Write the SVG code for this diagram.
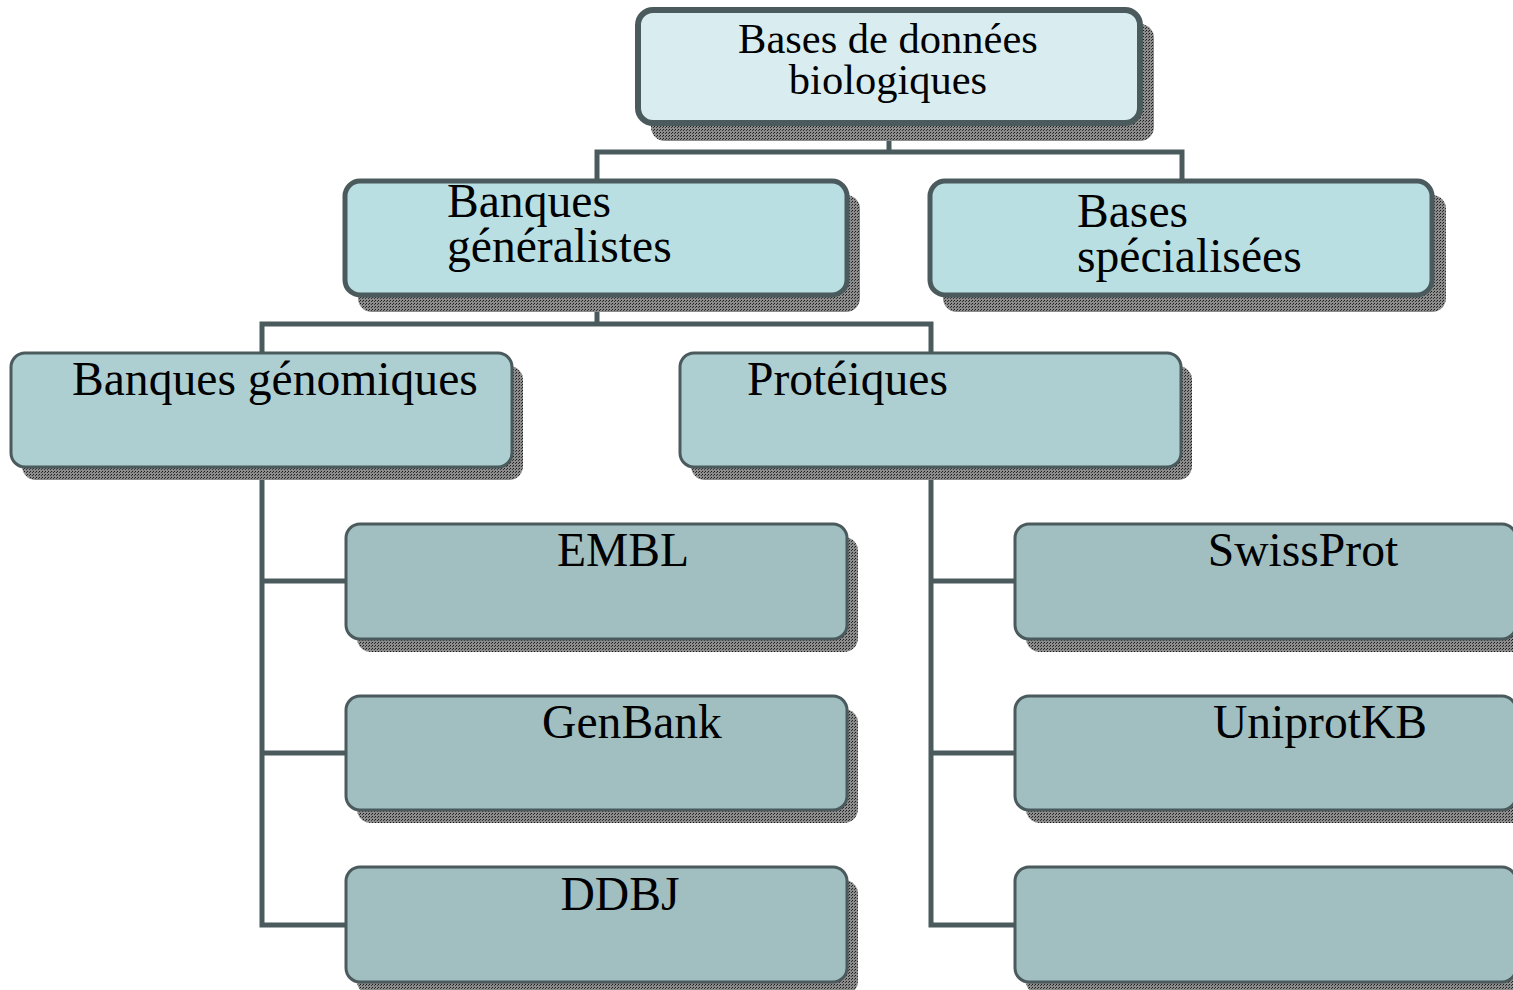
<svg xmlns="http://www.w3.org/2000/svg" width="1513" height="990" viewBox="0 0 1513 990">
<defs>
<pattern id="dither" width="3" height="3" patternUnits="userSpaceOnUse">
<rect width="3" height="3" fill="#8c8c8c"/>
<rect x="0" y="0" width="1" height="1" fill="#1a1a1a"/>
<rect x="2" y="1" width="1" height="1" fill="#333"/>
</pattern>
</defs>
<style>
.sh{fill:url(#dither)}
.n1{fill:#d9edf0;stroke:#4b5b5d;stroke-width:6}
.n2{fill:#b9dfe3;stroke:#4b5b5d;stroke-width:5}
.n3{fill:#aecfd1;stroke:#4b5b5d;stroke-width:3}
.n4{fill:#a1bfc1;stroke:#4b5b5d;stroke-width:3}
.c{fill:none;stroke:#4b5b5d;stroke-width:5}
text{font-family:"Liberation Serif","Times New Roman",serif;fill:#000}
.t1{font-size:42.5px}
.t2{font-size:47.6px}
</style>
<g id="connectors">
<path class="c" d="M889 123V152M597 180V152H1182V180"/>
<path class="c" d="M597 295V324M262 353V324H931V353"/>
<path class="c" d="M262 467V925H346M262 581H346M262 753H346"/>
<path class="c" d="M931 467V925H1015M931 581H1015M931 753H1015"/>
</g>
<g id="n-top">
<rect class="sh" x="651" y="24" width="503" height="117" rx="14"/>
<rect class="n1" x="638" y="10" width="502" height="113" rx="15"/>
<text class="t1" x="888" y="53" text-anchor="middle">Bases de données</text>
<text class="t1" x="888" y="94" text-anchor="middle">biologiques</text>
</g>
<g id="n-gen">
<rect class="sh" x="358" y="195" width="502" height="117" rx="14"/>
<rect class="n2" x="345" y="181" width="502" height="114" rx="15"/>
<text class="t2" x="447" y="217">Banques</text>
<text class="t2" x="447" y="262">généralistes</text>
</g>
<g id="n-spec">
<rect class="sh" x="943" y="195" width="503" height="117" rx="14"/>
<rect class="n2" x="930" y="181" width="502" height="114" rx="15"/>
<text class="t2" x="1077" y="227">Bases</text>
<text class="t2" x="1077" y="272">spécialisées</text>
</g>
<g id="n-genom">
<rect class="sh" x="22" y="366" width="501" height="114" rx="14"/>
<rect class="n3" x="11" y="353" width="501" height="114" rx="14"/>
<text class="t2" x="72" y="395">Banques génomiques</text>
</g>
<g id="n-prot">
<rect class="sh" x="691" y="366" width="501" height="114" rx="14"/>
<rect class="n3" x="680" y="353" width="501" height="114" rx="14"/>
<text class="t2" x="747" y="395">Protéiques</text>
</g>
<g id="n-embl">
<rect class="sh" x="357" y="537" width="501" height="115" rx="14"/>
<rect class="n4" x="346" y="524" width="501" height="115" rx="14"/>
<text class="t2" x="623" y="566" text-anchor="middle">EMBL</text>
</g>
<g id="n-genbank">
<rect class="sh" x="357" y="709" width="501" height="114" rx="14"/>
<rect class="n4" x="346" y="696" width="501" height="114" rx="14"/>
<text class="t2" x="632" y="738" text-anchor="middle">GenBank</text>
</g>
<g id="n-ddbj">
<rect class="sh" x="357" y="880" width="501" height="115" rx="14"/>
<rect class="n4" x="346" y="867" width="501" height="115" rx="14"/>
<text class="t2" x="620" y="910" text-anchor="middle">DDBJ</text>
</g>
<g id="n-swiss">
<rect class="sh" x="1026" y="537" width="501" height="115" rx="14"/>
<rect class="n4" x="1015" y="524" width="501" height="115" rx="14"/>
<text class="t2" x="1303" y="566" text-anchor="middle">SwissProt</text>
</g>
<g id="n-uniprot">
<rect class="sh" x="1026" y="709" width="501" height="114" rx="14"/>
<rect class="n4" x="1015" y="696" width="501" height="114" rx="14"/>
<text class="t2" x="1320" y="738" text-anchor="middle">UniprotKB</text>
</g>
<g id="n-empty">
<rect class="sh" x="1026" y="880" width="501" height="115" rx="14"/>
<rect class="n4" x="1015" y="867" width="501" height="115" rx="14"/>
</g>
</svg>
